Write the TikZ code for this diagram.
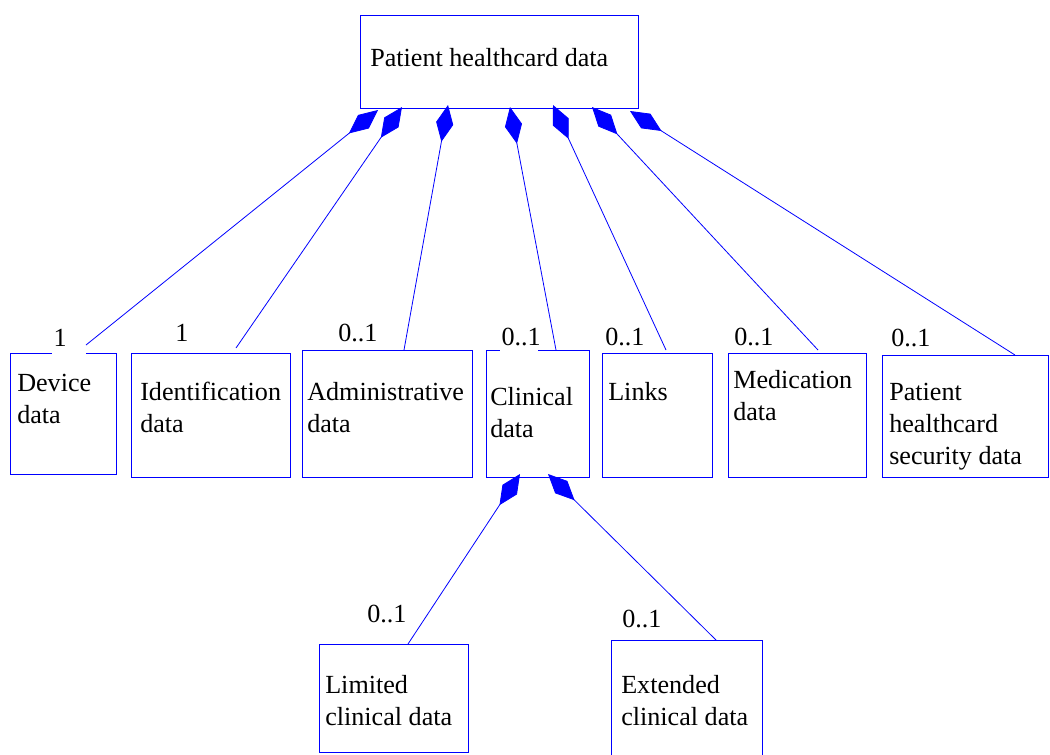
\documentclass[tikz,border=0pt]{standalone}
\usepackage{fontspec}
\setmainfont{Liberation Serif}
\usetikzlibrary{arrows.meta,fit}
\newcommand\boxtext[1]{\begin{tabular}[t]{@{}l@{}}#1\end{tabular}}
\begin{document}
\begin{tikzpicture}[x=0.75pt,y=-0.75pt,
  cls/.style={draw=blue, line width=0.75pt, inner sep=0pt},
  txt/.style={anchor=base west, inner sep=0pt, font=\fontsize{19.6}{24}\selectfont},
  mult/.style={anchor=base west, inner sep=0pt, font=\fontsize{19.6}{24}\selectfont},
  gap/.style={mult, fill=white, inner sep=1pt, text depth=6pt, align=left},
  comp/.style={draw=blue, line width=0.6pt, {Diamond[length=28pt,width=13pt,fill=blue]}-},
]
\useasboundingbox (0,0) rectangle (1050,754);
\clip (0,0) rectangle (1050,754);

% classes
\node[cls, fit={(360,15) (638,108)}] (root) {};
\node[cls, fit={(10,353) (116,474)}] (dev) {};
\node[cls, fit={(131,353) (290,477)}] (ident) {};
\node[cls, fit={(302,350) (472,477)}] (admin) {};
\node[cls, fit={(486,350) (589,477)}] (clin) {};
\node[cls, fit={(602,353) (712,477)}] (links) {};
\node[cls, fit={(728,353) (866,477)}] (med) {};
\node[cls, fit={(882,355) (1048,477)}] (sec) {};
\node[cls, fit={(319,644) (468,752)}] (lim) {};
\node[cls, fit={(611,640) (762,760)}] (ext) {};

% class names
\node[txt] (troot) at (370,66) {Patient healthcard data};
\node[txt] (tdev) at (17,391) {\boxtext{Device\\data}};
\node[txt] (tident) at (140,400) {\boxtext{Identification\\data}};
\node[txt] (tadmin) at (307,400) {\boxtext{Administrative\\data}};
\node[txt] (tclin) at (490,405) {\boxtext{Clinical\\data}};
\node[txt] (tlinks) at (608,400) {Links};
\node[txt] (tmed) at (733,388) {\boxtext{Medication\\data}};
\node[txt] (tsec) at (889,400) {\boxtext{Patient\\healthcard\\security data}};
\node[txt] (tlim) at (325,693) {\boxtext{Limited\\clinical data}};
\node[txt] (text) at (621,693) {\boxtext{Extended\\clinical data}};

% multiplicities
\node[gap, text width=23.5pt] (mdev) at (52,346) {1};
\node[mult] (mident) at (175,341) {1};
\node[mult] (madmin) at (338,341) {0..1};
\node[gap, text width=26.5pt] (mclin) at (500,345) {0..1};
\node[mult] (mlinks) at (605,345) {0..1};
\node[mult] (mmed) at (734,345) {0..1};
\node[mult] (msec) at (891,346) {0..1};
\node[mult] (mlim) at (367,622) {0..1};
\node[mult] (mext) at (622,627) {0..1};

% connector ends
\coordinate (p1) at (378,110);  \coordinate (q1) at (86,345);
\coordinate (p2) at (402,107);  \coordinate (q2) at (236,348);
\coordinate (p3) at (448,105);  \coordinate (q3) at (404,350);
\coordinate (p4) at (510,107);  \coordinate (q4) at (556,350);
\coordinate (p5) at (553,105);  \coordinate (q5) at (666,350);
\coordinate (p6) at (592,107);  \coordinate (q6) at (818,350);
\coordinate (p7) at (630,111);  \coordinate (q7) at (1015,355);
\coordinate (p8) at (520,474);  \coordinate (q8) at (408,644);
\coordinate (p9) at (548,474);  \coordinate (q9) at (716,640);

% compositions
\draw[comp] (p1) -- (q1);
\draw[comp] (p2) -- (q2);
\draw[comp] (p3) -- (q3);
\draw[comp] (p4) -- (q4);
\draw[comp] (p5) -- (q5);
\draw[comp] (p6) -- (q6);
\draw[comp] (p7) -- (q7);
\draw[comp] (p8) -- (q8);
\draw[comp] (p9) -- (q9);
\end{tikzpicture}
\end{document}
